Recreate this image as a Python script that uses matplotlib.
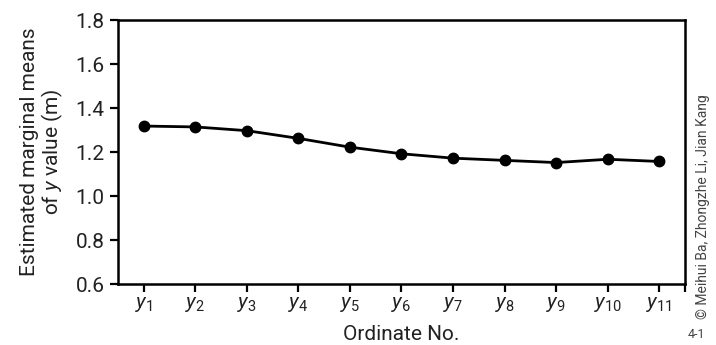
import matplotlib
matplotlib.use("Agg")
import matplotlib.pyplot as plt

# data
ordinates = list(range(1, 12))
tick_labels = [r"$\mathit{y}_{\mathrm{%d}}$" % i for i in ordinates]
means = [1.318, 1.314, 1.297, 1.262, 1.222, 1.192, 1.172, 1.162, 1.152, 1.167, 1.157]

fam = 'Roboto'
plt.rcParams['font.family'] = [fam, 'DejaVu Sans']
plt.rcParams['mathtext.fontset'] = 'custom'
plt.rcParams['mathtext.rm'] = fam
plt.rcParams['mathtext.it'] = fam + ':italic'

txt = '#222222'
fig = plt.figure(figsize=(7.16, 3.45), dpi=100)
ax = fig.add_axes([0.1648, 0.1768, 0.7919, 0.7652])

ax.plot(ordinates, means, color='black', lw=2, marker='o', markersize=7.5)

ax.set_xlim(0.5, 11.5)
ax.set_ylim(0.6, 1.8)
ax.set_xticks(ordinates)
ax.set_xticklabels(tick_labels)
ax.set_xticks([11.5], minor=True)
ax.set_yticks([0.6, 0.8, 1.0, 1.2, 1.4, 1.6, 1.8])
ax.set_yticklabels(["0.6", "0.8", "1.0", "1.2", "1.4", "1.6", "1.8"])

for s in ax.spines.values():
    s.set_linewidth(1.8)
    s.set_color('black')
ax.tick_params(axis='both', which='both', direction='out', length=6, width=1.6,
               colors='black', labelcolor=txt, labelsize=15)
ax.tick_params(axis='x', which='minor', length=6)
ax.tick_params(axis='x', pad=2, labelsize=15)

ax.set_xlabel("Ordinate No.", fontsize=15, color=txt, labelpad=8)
ax.set_ylabel("Estimated marginal means\nof $\\mathit{y}$ value (m)", fontsize=15,
              color=txt, labelpad=8, linespacing=1.0)

fig.text(0.982, 0.40, "© Meihui Ba, Zhongzhe Li, Jian Kang", rotation=90,
         ha='center', va='center', fontsize=10, color='#444444')
fig.text(0.973, 0.03, "4-1", ha='center', va='center', fontsize=9, color='#444444')

fig.savefig("out.png", dpi=100)
